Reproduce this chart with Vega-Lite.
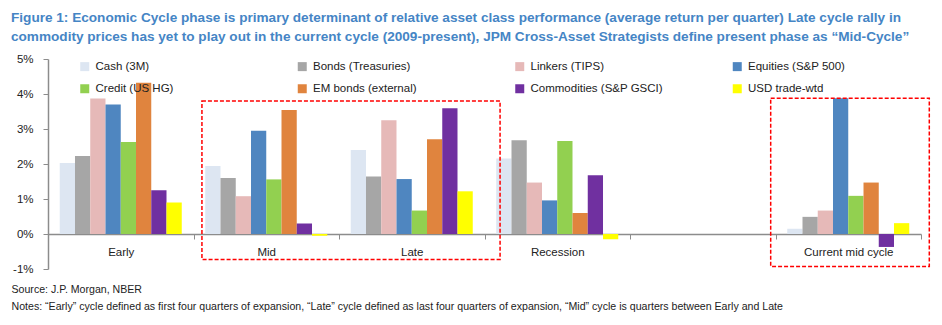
{
  "$schema": "https://vega.github.io/schema/vega-lite/v6.json",
  "width": 873,
  "height": 210,
  "autosize": {"type": "none"},
  "padding": {"left": 48, "top": 59, "right": 21, "bottom": 56},
  "background": "white",
  "config": {
    "view": {"stroke": null},
    "font": "Liberation Sans",
    "axisY": {"labelOverlap": false}
  },
  "title": {
    "text": [
      "Figure 1: Economic Cycle phase is primary determinant of relative asset class performance (average return per quarter) Late cycle rally in",
      "commodity prices has yet to play out in the current cycle (2009-present), JPM Cross-Asset Strategists define present phase as “Mid-Cycle”"
    ],
    "anchor": "start",
    "frame": "group",
    "dx": -37,
    "dy": 20,
    "offset": 15,
    "baseline": "bottom",
    "font": "Liberation Sans",
    "fontSize": 13.6,
    "fontWeight": "bold",
    "color": "#4585c5",
    "lineHeight": 19
  },
  "datasets": {
    "returns": [
      {"phase": "Early", "asset": "Cash (3M)", "value": 2.03},
      {"phase": "Early", "asset": "Bonds (Treasuries)", "value": 2.23},
      {"phase": "Early", "asset": "Linkers (TIPS)", "value": 3.87},
      {"phase": "Early", "asset": "Equities (S&P 500)", "value": 3.70},
      {"phase": "Early", "asset": "Credit (US HG)", "value": 2.63},
      {"phase": "Early", "asset": "EM bonds (external)", "value": 4.32},
      {"phase": "Early", "asset": "Commodities (S&P GSCI)", "value": 1.25},
      {"phase": "Early", "asset": "USD trade-wtd", "value": 0.90},
      {"phase": "Mid", "asset": "Cash (3M)", "value": 1.94},
      {"phase": "Mid", "asset": "Bonds (Treasuries)", "value": 1.60},
      {"phase": "Mid", "asset": "Linkers (TIPS)", "value": 1.08},
      {"phase": "Mid", "asset": "Equities (S&P 500)", "value": 2.95},
      {"phase": "Mid", "asset": "Credit (US HG)", "value": 1.56},
      {"phase": "Mid", "asset": "EM bonds (external)", "value": 3.54},
      {"phase": "Mid", "asset": "Commodities (S&P GSCI)", "value": 0.30},
      {"phase": "Mid", "asset": "USD trade-wtd", "value": -0.05},
      {"phase": "Late", "asset": "Cash (3M)", "value": 2.40},
      {"phase": "Late", "asset": "Bonds (Treasuries)", "value": 1.64},
      {"phase": "Late", "asset": "Linkers (TIPS)", "value": 3.25},
      {"phase": "Late", "asset": "Equities (S&P 500)", "value": 1.57},
      {"phase": "Late", "asset": "Credit (US HG)", "value": 0.67},
      {"phase": "Late", "asset": "EM bonds (external)", "value": 2.71},
      {"phase": "Late", "asset": "Commodities (S&P GSCI)", "value": 3.59},
      {"phase": "Late", "asset": "USD trade-wtd", "value": 1.22},
      {"phase": "Recession", "asset": "Cash (3M)", "value": 2.16},
      {"phase": "Recession", "asset": "Bonds (Treasuries)", "value": 2.68},
      {"phase": "Recession", "asset": "Linkers (TIPS)", "value": 1.47},
      {"phase": "Recession", "asset": "Equities (S&P 500)", "value": 0.96},
      {"phase": "Recession", "asset": "Credit (US HG)", "value": 2.66},
      {"phase": "Recession", "asset": "EM bonds (external)", "value": 0.60},
      {"phase": "Recession", "asset": "Commodities (S&P GSCI)", "value": 1.68},
      {"phase": "Recession", "asset": "USD trade-wtd", "value": -0.15},
      {"phase": "Current mid cycle", "asset": "Cash (3M)", "value": 0.15},
      {"phase": "Current mid cycle", "asset": "Bonds (Treasuries)", "value": 0.49},
      {"phase": "Current mid cycle", "asset": "Linkers (TIPS)", "value": 0.67},
      {"phase": "Current mid cycle", "asset": "Equities (S&P 500)", "value": 3.88},
      {"phase": "Current mid cycle", "asset": "Credit (US HG)", "value": 1.09},
      {"phase": "Current mid cycle", "asset": "EM bonds (external)", "value": 1.47},
      {"phase": "Current mid cycle", "asset": "Commodities (S&P GSCI)", "value": -0.37},
      {"phase": "Current mid cycle", "asset": "USD trade-wtd", "value": 0.31}
    ],
    "boxes": [
      {"box": "Mid-Late", "x0": 1.058, "x1": 3.107, "y0": -0.725, "y1": 3.80},
      {"box": "Current", "x0": 4.967, "x1": 6.057, "y0": -0.925, "y1": 3.88}
    ]
  },
  "layer": [
    {
      "data": {"name": "returns"},
      "mark": {"type": "bar"},
      "encoding": {
        "x": {
          "field": "phase",
          "type": "nominal",
          "sort": null,
          "scale": {
            "domain": ["Early", "Mid", "Late", "Recession", " ", "Current mid cycle"],
            "paddingInner": 0,
            "paddingOuter": 0
          },
          "axis": {
            "orient": "bottom",
            "offset": -35,
            "tickBand": "extent",
            "tickSize": 5,
            "tickColor": "#8c8c8c",
            "domainColor": "#8c8c8c",
            "domainWidth": 1.5,
            "labelAngle": 0,
            "labelPadding": 7,
            "labelFontSize": 11.5,
            "labelColor": "#222222",
            "labelLimit": 200,
            "title": [
              "Source: J.P. Morgan, NBER",
              "Notes: “Early” cycle defined as first four quarters of expansion, “Late” cycle defined as last four quarters of expansion, “Mid” cycle is quarters between Early and Late"
            ],
            "titleX": -37,
            "titleY": 50.5,
            "titleAlign": "left",
            "titleBaseline": "top",
            "titleAngle": 0,
            "titleFont": "Liberation Sans",
            "titleFontSize": 10.6,
            "titleFontWeight": "normal",
            "titleLineHeight": 16.5,
            "titleColor": "#222222"
          }
        },
        "xOffset": {
          "field": "asset",
          "type": "nominal",
          "sort": null,
          "scale": {
            "domain": ["Cash (3M)", "Bonds (Treasuries)", "Linkers (TIPS)", "Equities (S&P 500)", "Credit (US HG)", "EM bonds (external)", "Commodities (S&P GSCI)", "USD trade-wtd"],
            "paddingInner": 0,
            "paddingOuter": 0.77
          }
        },
        "y": {
          "field": "value",
          "type": "quantitative",
          "scale": {"domain": [-1, 5], "nice": false, "zero": false},
          "axis": {
            "values": [-1, 0, 1, 2, 3, 4, 5],
            "labelExpr": "datum.value + '%'",
            "labelOverlap": false,
            "grid": false,
            "title": null,
            "tickSize": 5,
            "tickColor": "#8c8c8c",
            "domainColor": "#8c8c8c",
            "domainWidth": 1.5,
            "labelPadding": 10,
            "labelFontSize": 11.5,
            "labelColor": "#222222"
          }
        },
        "color": {
          "field": "asset",
          "type": "nominal",
          "sort": null,
          "scale": {
            "domain": ["Cash (3M)", "Bonds (Treasuries)", "Linkers (TIPS)", "Equities (S&P 500)", "Credit (US HG)", "EM bonds (external)", "Commodities (S&P GSCI)", "USD trade-wtd"],
            "range": ["#dde6f2", "#a6a6a6", "#e6b9b8", "#4f86c0", "#92d050", "#e0843e", "#7030a0", "#ffff00"]
          },
          "legend": {
            "title": null,
            "orient": "none",
            "direction": "horizontal",
            "legendX": 31,
            "legendY": 1.5,
            "columns": 4,
            "gridAlign": "all",
            "columnPadding": 68.5,
            "rowPadding": 9.5,
            "symbolType": "square",
            "symbolSize": 81,
            "symbolStrokeWidth": 0,
            "labelFontSize": 11.5,
            "labelColor": "#222222",
            "labelOffset": 5,
            "labelLimit": 250
          }
        }
      }
    },
    {
      "data": {"name": "boxes"},
      "mark": {"type": "rect", "fill": null, "stroke": "#ff0000", "strokeWidth": 1.5, "strokeDash": [4, 2], "clip": false},
      "encoding": {
        "x": {"field": "x0", "type": "quantitative", "scale": {"domain": [0, 6], "nice": false, "zero": false}, "axis": null},
        "x2": {"field": "x1"},
        "y": {
          "field": "y0",
          "type": "quantitative",
          "axis": {
            "values": [-1, 0, 1, 2, 3, 4, 5],
            "labelExpr": "datum.value + '%'",
            "labelOverlap": false,
            "grid": false,
            "title": null,
            "tickSize": 5,
            "tickColor": "#8c8c8c",
            "domainColor": "#8c8c8c",
            "domainWidth": 1.5,
            "labelPadding": 10,
            "labelFontSize": 11.5,
            "labelColor": "#222222"
          }
        },
        "y2": {"field": "y1"}
      }
    }
  ],
  "resolve": {"scale": {"x": "independent"}}
}
